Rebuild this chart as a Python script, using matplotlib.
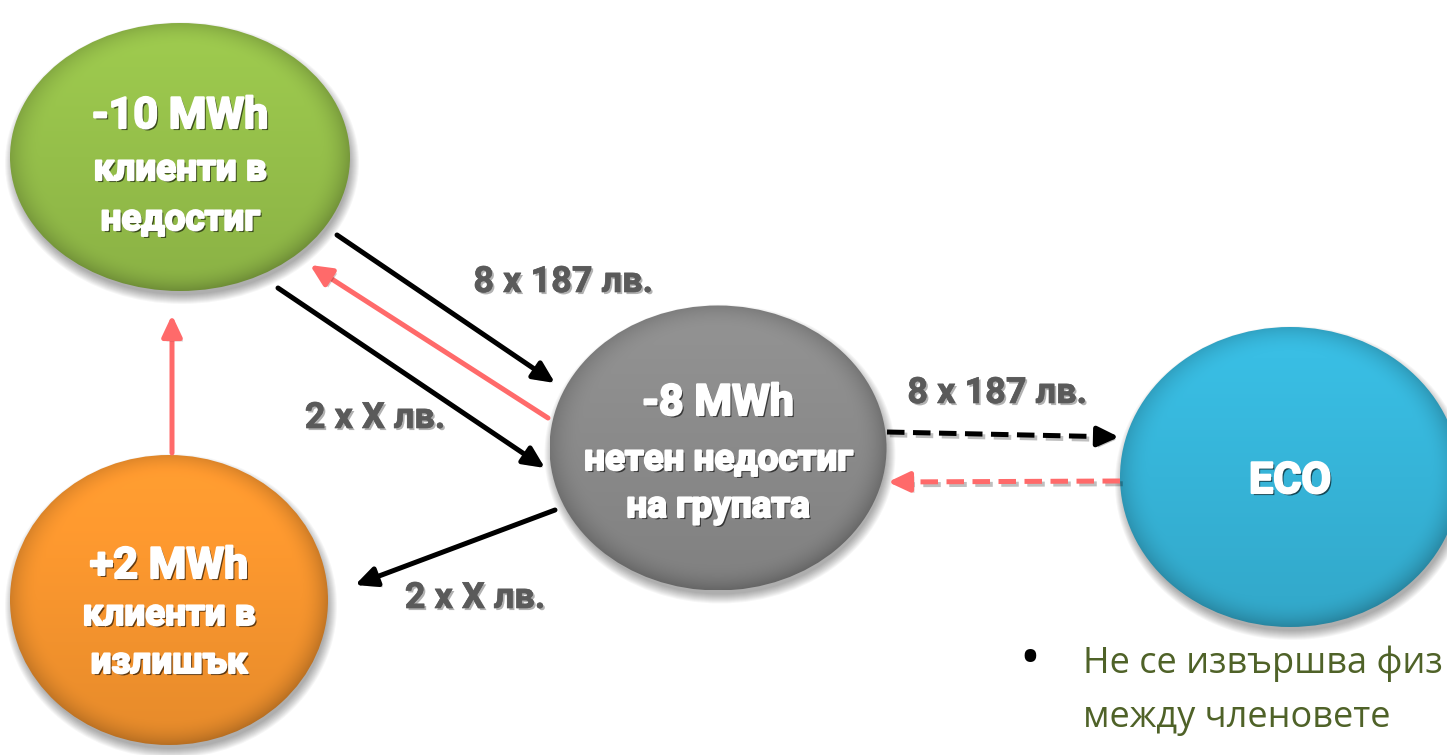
import numpy as np
import matplotlib
matplotlib.use("Agg")
import matplotlib.pyplot as plt
import matplotlib.patheffects as pe
from matplotlib.patches import Ellipse
from matplotlib.colors import to_rgb

# content of the diagram
node_titles = ["-10 MWh", "+2 MWh", "-8 MWh", "ECO"]
node_lines = [["клиенти в", "недостиг"],
              ["клиенти в", "излишък"],
              ["нетен недостиг", "на групата"],
              []]
node_colors = ["#95BF4A", "#F7952E", "#8A8A8A", "#36B4D8"]

flow_labels = ["8 x 187 лв.", "2 x X лв.", "8 x 187 лв.", "2 x X лв."]
note_lines = ["Не се извършва физ", "между членовете"]

# layout in pixel coordinates (origin top-left)
W, H = 1447, 755
node_xy = [(180, 157), (169, 600), (718, 448), (1290, 477)]
node_wh = [(340, 268), (318, 290), (337, 285), (340, 300)]
title_base = [128, 578, 415, 493]
line_base = [[180, 230], [625, 673], [470, 517], []]

flow_xy = [(563, 292), (375, 428), (997, 403), (475, 608)]

RED = "#FF6A6A"
arrows = [((337, 235), (555, 383), "black", False),
          ((548, 418), (310, 265), RED, False),
          ((278, 288), (545, 468), "black", False),
          ((172, 453), (172, 315), RED, False),
          ((555, 510), (355, 585), "black", False),
          ((887, 432), (1119, 437), "black", True),
          ((1120, 481), (888, 482), RED, True)]

plt.rcParams['font.family'] = ['Roboto', 'DejaVu Sans']

fig = plt.figure(figsize=(W / 100, H / 100), dpi=100)
ax = fig.add_axes([0, 0, 1, 1])
ax.set_xlim(0, W)
ax.set_ylim(H, 0)
ax.axis('off')


def shaded_ellipse(cx, cy, w, h, color):
    # soft drop shadow
    for i in range(10):
        ax.add_patch(Ellipse((cx + 2, cy + 6), w + 2 * i - 4, h + 2 * i - 4,
                             facecolor='black', edgecolor='none', alpha=0.035, zorder=1))
    n = 300
    u = np.linspace(-1, 1, n)
    uu, vv = np.meshgrid(u, u)
    r = np.sqrt(uu ** 2 + vv ** 2)
    shade = 1.07 - 0.14 * (vv + 1) / 2
    rim = np.clip((r - 0.82) / 0.18, 0, 1)
    shade = shade * (1 - 0.22 * rim ** 2 * (0.6 + 0.4 * (vv + uu + 2) / 4))
    base = np.array(to_rgb(color))
    img = np.clip(base[None, None, :] * shade[:, :, None], 0, 1)
    patch = Ellipse((cx, cy), w, h, facecolor='none', edgecolor='none', zorder=2)
    ax.add_patch(patch)
    im = ax.imshow(img, extent=(cx - w / 2, cx + w / 2, cy + h / 2, cy - h / 2),
                   origin='upper', zorder=2, interpolation='bilinear')
    im.set_clip_path(patch)


for (cx, cy), (w, h), col in zip(node_xy, node_wh, node_colors):
    shaded_ellipse(cx, cy, w, h, col)

white_fx = [pe.SimplePatchShadow(offset=(1.5, -1.5), shadow_rgbFace='black', alpha=0.6),
            pe.Stroke(linewidth=1.6, foreground='white'),
            pe.Normal()]

for i, (cx, cy) in enumerate(node_xy):
    ax.text(cx, title_base[i], node_titles[i], ha='center', va='baseline',
            fontsize=31, fontweight='bold', color='white', path_effects=white_fx, zorder=5)
    for txt, yb in zip(node_lines[i], line_base[i]):
        ax.text(cx, yb, txt, ha='center', va='baseline', fontsize=26.5,
                fontweight='bold', color='white', path_effects=white_fx, zorder=5)

label_fx = [pe.SimplePatchShadow(offset=(1.5, -1.5), shadow_rgbFace='black', alpha=0.3),
            pe.Stroke(linewidth=0.5, foreground='#5A5A5A'),
            pe.Normal()]
for txt, (x, y) in zip(flow_labels, flow_xy):
    ax.text(x, y, txt, ha='center', va='baseline', fontsize=26, fontweight='bold',
            color='#5A5A5A', path_effects=label_fx, zorder=5)

arrow_fx = [pe.SimplePatchShadow(offset=(2, -2), alpha=0.25), pe.Normal()]
line_fx = [pe.SimpleLineShadow(offset=(2, -2), alpha=0.25), pe.Normal()]
head = '-|>,head_length=0.85,head_width=0.4'
for (x0, y0), (x1, y1), col, dashed in arrows:
    if dashed:
        d = np.array([x1 - x0, y1 - y0], dtype=float)
        d /= np.hypot(*d)
        hx, hy = x1 - 18 * d[0], y1 - 18 * d[1]
        ax.plot([x0, hx], [y0, hy], color=col, lw=3.6, ls=(0, (3.5, 1.7)),
                solid_capstyle='butt', path_effects=line_fx, zorder=4)
        ax.annotate('', xy=(x1, y1), xytext=(hx, hy),
                    arrowprops=dict(arrowstyle=head, color=col, lw=3.6, mutation_scale=15,
                                    shrinkA=0, shrinkB=0, path_effects=arrow_fx), zorder=4)
    else:
        ax.annotate('', xy=(x1, y1), xytext=(x0, y0),
                    arrowprops=dict(arrowstyle=head, color=col, lw=3.6, mutation_scale=15,
                                    shrinkA=0, shrinkB=0, path_effects=arrow_fx), zorder=4)

# bullet note at the bottom right
ax.text(1030, 676, "•", ha='center', va='baseline', fontsize=40, color='black',
        family=['Open Sans', 'DejaVu Sans'])
for txt, yb in zip(note_lines, [673, 727]):
    ax.text(1083, yb, txt, ha='left', va='baseline', fontsize=26, color='#4F6228',
            family=['Open Sans', 'DejaVu Sans'])

fig.savefig("out.png", dpi=100)
